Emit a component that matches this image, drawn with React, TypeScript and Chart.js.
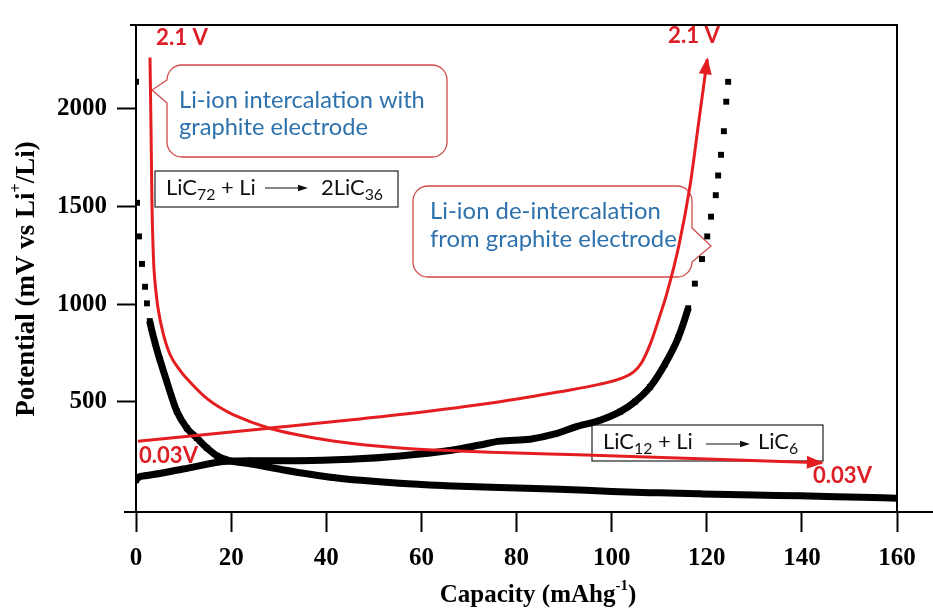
import React, { useEffect, useRef } from "react";
import { Chart, registerables } from "chart.js";

Chart.register(...registerables);

// ---- Axis setup ----
const X_MIN = 0;
const X_MAX = 160;
const X_STEP = 20;
const Y_MIN = -65;
const Y_MAX = 2430;
const Y_TICKS = [500, 1000, 1500, 2000];

// ---- Black measured curves (square markers) ----
const dischargeX = [0, 0.21, 0.63, 1.26, 1.9, 2.3, 2.9, 4.0, 5.0, 6.5, 8.6, 10.7, 12.8, 14.9, 17.0, 19.8, 24, 30, 41.4, 55.5, 65, 76.5, 89, 100, 110, 118.6, 130, 139.6, 150, 160];
const dischargeY = [2139, 1519, 1347, 1206, 1089, 1004, 913, 802, 717, 601, 450, 364, 314, 263, 223, 197, 182, 155, 112, 82, 70, 60, 52, 40, 33, 28, 22, 18, 12, 6];

const chargeX = [0, 0.4, 2.3, 9.9, 19, 24, 34.5, 45, 55.5, 66, 72.3, 76.5, 82.8, 88.1, 92.3, 97.6, 101.8, 104.9, 108.1, 111.2, 114, 116.1, 117.5, 119, 120.1, 120.9, 121.9, 122.4, 123.0, 123.6, 124.1, 124.5];
const chargeY = [97, 112, 122, 155, 195, 198, 198, 205, 222, 250, 278, 298, 308, 335, 370, 405, 449, 500, 576, 692, 828, 979, 1105, 1231, 1347, 1448, 1558, 1659, 1765, 1886, 2037, 2139];

// ---- Red annotation arrows ----
const redDischargeX = [2.94, 3.15, 3.36, 3.57, 3.78, 4.2, 4.63, 5.68, 7.15, 9.25, 11.35, 14.5, 17.66, 20.4, 28.2, 34.5, 41.4, 55.5, 76.5, 93, 118.6, 144.2];
const redDischargeY = [2264, 1911, 1508, 1306, 1180, 1064, 979, 853, 742, 661, 601, 525, 470, 434, 363, 328, 299, 263, 240, 228, 208, 187];

const redChargeX = [0.4, 27.5, 55.5, 76.5, 89.1, 97.6, 102.0, 104.5, 106.3, 108.2, 110.0, 111.6, 114.2, 116.5, 118.3, 120.1];
const redChargeY = [298, 363, 434, 500, 551, 590, 620, 650, 700, 800, 930, 1054, 1307, 1609, 1930, 2254];

// ---- Text ----
const X_TITLE = "Capacity (mAhg";
const X_TITLE_SUP = "-1";
const Y_TITLE_A = "Potential (mV vs Li";
const Y_TITLE_SUP = "+";
const Y_TITLE_B = "/Li)";
const CALLOUT1 = ["Li-ion intercalation with", "graphite electrode"];
const CALLOUT2 = ["Li-ion de-intercalation", "from graphite electrode"];
const LABEL_HIGH = "2.1 V";
const LABEL_LOW = "0.03V";

const RED = "#e41e20";
const LABEL_RED = "#dc1f26";
const BLUE = "#2e72ad";
const SERIF = "'Liberation Serif', 'Times New Roman', serif";
const SANS = "Lato, 'Noto Sans', sans-serif";

const pts = (xs: number[], ys: number[]) => xs.map((x, i) => ({ x, y: ys[i] }));

function fitSize(ctx: CanvasRenderingContext2D, text: string, weight: string, family: string, target: number) {
  ctx.font = `${weight} 100px ${family}`;
  const w = ctx.measureText(text).width;
  return (100 * target) / w;
}

function arrowHead(ctx: CanvasRenderingContext2D, x0: number, y0: number, x1: number, y1: number, len: number, hw: number, color: string) {
  const a = Math.atan2(y1 - y0, x1 - x0);
  ctx.save();
  ctx.translate(x1, y1);
  ctx.rotate(a);
  ctx.fillStyle = color;
  ctx.beginPath();
  ctx.moveTo(2, 0);
  ctx.lineTo(-len, -hw);
  ctx.lineTo(-len, hw);
  ctx.closePath();
  ctx.fill();
  ctx.restore();
}

function callout(ctx: CanvasRenderingContext2D, x: number, y: number, w: number, h: number, r: number, side: "left" | "right", y1: number, y2: number, tx: number, ty: number) {
  ctx.beginPath();
  ctx.moveTo(x + r, y);
  ctx.lineTo(x + w - r, y);
  ctx.arcTo(x + w, y, x + w, y + r, r);
  if (side === "right") {
    ctx.lineTo(x + w, y1);
    ctx.lineTo(tx, ty);
    ctx.lineTo(x + w, y2);
  }
  ctx.lineTo(x + w, y + h - r);
  ctx.arcTo(x + w, y + h, x + w - r, y + h, r);
  ctx.lineTo(x + r, y + h);
  ctx.arcTo(x, y + h, x, y + h - r, r);
  if (side === "left") {
    ctx.lineTo(x, y2);
    ctx.lineTo(tx, ty);
    ctx.lineTo(x, y1);
  }
  ctx.lineTo(x, y + r);
  ctx.arcTo(x, y, x + r, y, r);
  ctx.closePath();
  ctx.fillStyle = "#ffffff";
  ctx.fill();
  ctx.strokeStyle = "#cf4a4a";
  ctx.lineWidth = 1.3;
  ctx.stroke();
}

function smallArrow(ctx: CanvasRenderingContext2D, x1: number, x2: number, y: number) {
  ctx.strokeStyle = "#111";
  ctx.lineWidth = 1.2;
  ctx.beginPath();
  ctx.moveTo(x1, y);
  ctx.lineTo(x2 - 5, y);
  ctx.stroke();
  arrowHead(ctx, x1, y, x2, y, 8, 3.2, "#111");
}

function reactionBox(ctx: CanvasRenderingContext2D, bx: number, by: number, bw: number, bh: number, groups: { x: number; parts: { t: string; sub?: boolean }[] }[], base: number, arrow: [number, number, number]) {
  ctx.fillStyle = "#fff";
  ctx.fillRect(bx, by, bw, bh);
  ctx.strokeStyle = "#222";
  ctx.lineWidth = 1.2;
  ctx.strokeRect(bx, by, bw, bh);
  ctx.fillStyle = "#111";
  ctx.textAlign = "left";
  ctx.textBaseline = "alphabetic";
  const main = fitSize(ctx, "LiC", "400", SANS, 31);
  for (const g of groups) {
    let x = g.x;
    for (const p of g.parts) {
      ctx.font = p.sub ? `400 ${main * 0.72}px ${SANS}` : `400 ${main}px ${SANS}`;
      ctx.fillText(p.t, x, p.sub ? base + 5 : base);
      x += ctx.measureText(p.t).width;
    }
  }
  smallArrow(ctx, arrow[0], arrow[1], arrow[2]);
}

const annotPlugin = {
  id: "annot",
  beforeDatasetsDraw(chart: any) {
    const ctx: CanvasRenderingContext2D = chart.ctx;
    ctx.save();
    callout(ctx, 167, 65, 280, 92, 15, "left", 80, 103, 152, 90);
    callout(ctx, 413, 186, 279, 91, 15, "right", 228, 262, 711, 246);
    ctx.fillStyle = BLUE;
    ctx.textAlign = "left";
    ctx.textBaseline = "alphabetic";
    let s = fitSize(ctx, CALLOUT1[0], "400", SANS, 246);
    ctx.font = `400 ${s}px ${SANS}`;
    ctx.fillText(CALLOUT1[0], 179, 108);
    ctx.fillText(CALLOUT1[1], 179, 135);
    s = fitSize(ctx, CALLOUT2[1], "400", SANS, 247);
    ctx.font = `400 ${s}px ${SANS}`;
    ctx.fillText(CALLOUT2[0], 430, 219);
    ctx.fillText(CALLOUT2[1], 430, 247);

    reactionBox(ctx, 155, 171, 243, 36, [
      { x: 166, parts: [{ t: "LiC" }, { t: "72", sub: true }, { t: " + Li" }] },
      { x: 321, parts: [{ t: "2LiC" }, { t: "36", sub: true }] },
    ], 195, [265, 306, 188]);
    reactionBox(ctx, 592, 425, 231, 36, [
      { x: 603, parts: [{ t: "LiC" }, { t: "12", sub: true }, { t: " + Li" }] },
      { x: 758, parts: [{ t: "LiC" }, { t: "6", sub: true }] },
    ], 449, [706, 748, 444]);
    ctx.restore();
  },
  afterDatasetsDraw(chart: any) {
    const ctx: CanvasRenderingContext2D = chart.ctx;
    ctx.save();
    for (const i of [0, 1]) {
      const d = chart.getDatasetMeta(i).data;
      const a = d[d.length - 2];
      const b = d[d.length - 1];
      arrowHead(ctx, a.x, a.y, b.x, b.y, 15, 6.5, RED);
    }
    ctx.fillStyle = LABEL_RED;
    ctx.textAlign = "left";
    ctx.textBaseline = "alphabetic";
    let s = fitSize(ctx, LABEL_HIGH, "700", SANS, 52);
    ctx.font = `700 ${s}px ${SANS}`;
    ctx.fillText(LABEL_HIGH, 156, 45);
    ctx.fillText(LABEL_HIGH, 668, 43);
    s = fitSize(ctx, LABEL_LOW, "700", SANS, 59);
    ctx.font = `700 ${s}px ${SANS}`;
    ctx.fillText(LABEL_LOW, 139, 463);
    ctx.fillText(LABEL_LOW, 813, 483);
    ctx.restore();
  },
  afterDraw(chart: any) {
    const ctx: CanvasRenderingContext2D = chart.ctx;
    const { top, bottom, left, right } = chart.chartArea;
    ctx.save();
    ctx.strokeStyle = "#000";
    ctx.lineWidth = 2;
    ctx.beginPath();
    ctx.moveTo(left - 6, top);
    ctx.lineTo(right + 1, top);
    ctx.moveTo(right, top);
    ctx.lineTo(right, bottom);
    ctx.moveTo(left - 12, bottom);
    ctx.lineTo(chart.width, bottom);
    ctx.stroke();

    ctx.fillStyle = "#000";
    ctx.textBaseline = "alphabetic";
    ctx.textAlign = "left";
    ctx.font = `700 25px ${SERIF}`;
    const w1 = ctx.measureText(X_TITLE).width;
    ctx.font = `700 15px ${SERIF}`;
    const w2 = ctx.measureText(X_TITLE_SUP).width;
    ctx.font = `700 25px ${SERIF}`;
    const w3 = ctx.measureText(")").width;
    const x0 = 538 - (w1 + w2 + w3) / 2;
    ctx.fillText(X_TITLE, x0, 602);
    ctx.font = `700 15px ${SERIF}`;
    ctx.fillText(X_TITLE_SUP, x0 + w1, 590);
    ctx.font = `700 25px ${SERIF}`;
    ctx.fillText(")", x0 + w1 + w2, 602);

    ctx.translate(34, 279);
    ctx.rotate(-Math.PI / 2);
    ctx.font = `700 27px ${SERIF}`;
    const a1 = ctx.measureText(Y_TITLE_A).width;
    const a3 = ctx.measureText(Y_TITLE_B).width;
    ctx.font = `700 16px ${SERIF}`;
    const a2 = ctx.measureText(Y_TITLE_SUP).width;
    const sx = -(a1 + a2 + a3) / 2;
    ctx.font = `700 27px ${SERIF}`;
    ctx.fillText(Y_TITLE_A, sx, 0);
    ctx.fillText(Y_TITLE_B, sx + a1 + a2, 0);
    ctx.font = `700 16px ${SERIF}`;
    ctx.fillText(Y_TITLE_SUP, sx + a1, -13);
    ctx.restore();
  },
};

export default function App() {
  const ref = useRef<HTMLCanvasElement | null>(null);
  useEffect(() => {
    if (!ref.current) return;
    const blackSeg = {
      borderColor: (c: any) => (Math.min(c.p0.parsed.y, c.p1.parsed.y) > 900 ? "rgba(0,0,0,0)" : "#000"),
    };
    const blackSet = (xs: number[], ys: number[]) => ({
      data: pts(xs, ys),
      borderColor: "#000",
      borderWidth: 7,
      pointStyle: "rect",
      pointRadius: 4.2,
      pointBackgroundColor: "#000",
      pointBorderWidth: 0,
      cubicInterpolationMode: "monotone",
      segment: blackSeg,
      fill: false,
    });
    const redSet = (xs: number[], ys: number[]) => ({
      data: pts(xs, ys),
      borderColor: RED,
      borderWidth: 3,
      pointRadius: 0,
      cubicInterpolationMode: "monotone",
      fill: false,
    });
    const chart = new Chart(ref.current, {
      type: "line",
      data: {
        datasets: [
          redSet(redDischargeX, redDischargeY),
          redSet(redChargeX, redChargeY),
          blackSet(dischargeX, dischargeY),
          blackSet(chargeX, chargeY),
        ],
      },
      options: {
        animation: false,
        responsive: false,
        events: [],
        layout: { padding: { left: 0, right: 36, top: 17, bottom: 0 } },
        plugins: { legend: { display: false }, tooltip: { enabled: false }, title: { display: false } },
        scales: {
          x: {
            type: "linear",
            min: X_MIN,
            max: X_MAX,
            afterFit: (s: any) => {
              s.height = 96;
            },
            ticks: {
              stepSize: X_STEP,
              color: "#000",
              font: { family: SERIF, size: 25, weight: "bold" },
              padding: 12,
              maxRotation: 0,
              callback: (v: any) => String(v),
            },
            grid: { drawOnChartArea: false, drawTicks: true, tickLength: 20, tickWidth: 2, tickColor: "#000", color: "#000" },
            border: { display: true, color: "#000", width: 2 },
          },
          y: {
            type: "linear",
            min: Y_MIN,
            max: Y_MAX,
            afterFit: (s: any) => {
              s.width = 136;
            },
            afterBuildTicks: (s: any) => {
              s.ticks = Y_TICKS.map((v) => ({ value: v }));
            },
            ticks: {
              color: "#000",
              font: { family: SERIF, size: 25, weight: "bold" },
              padding: 10,
              callback: (v: any) => String(v),
            },
            grid: { drawOnChartArea: false, drawTicks: true, tickLength: 19, tickWidth: 2, tickColor: "#000", color: "#000" },
            border: { display: true, color: "#000", width: 2 },
          },
        },
      },
      plugins: [annotPlugin],
    } as any);
    return () => chart.destroy();
  }, []);
  return (
    <div style={{ position: "absolute", left: 0, top: 0, width: 933, height: 608, background: "#fff" }}>
      <canvas ref={ref} width={933} height={608} style={{ display: "block" }} />
    </div>
  );
}
